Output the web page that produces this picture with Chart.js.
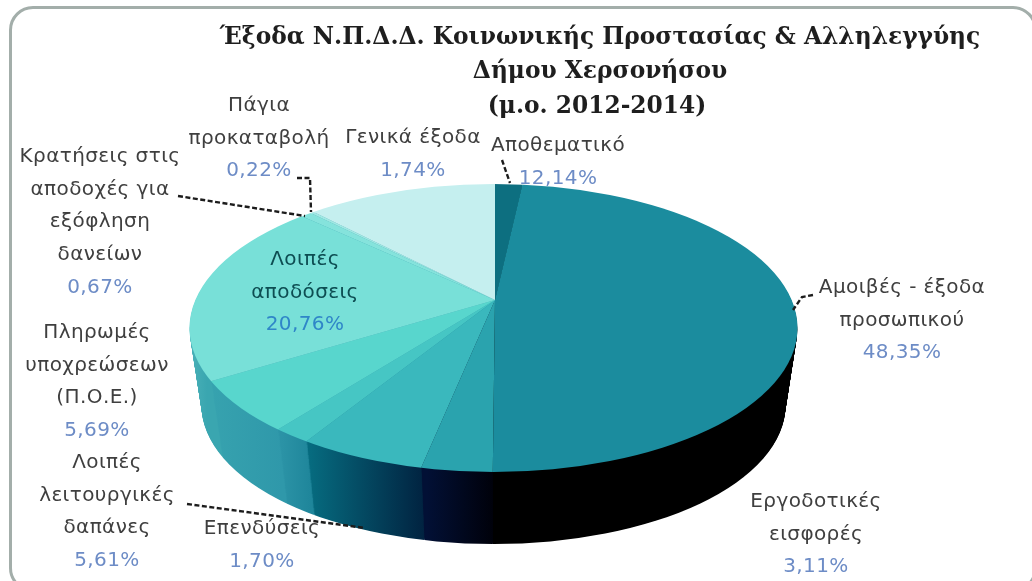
<!DOCTYPE html>
<html lang="el">
<head>
  <meta charset="UTF-8">
  <title>Έξοδα Ν.Π.Δ.Δ.</title>
  <script src="https://cdn.jsdelivr.net/npm/chart.js"></script>
  <style>
    html, body { margin: 0; padding: 0; background: #fff; overflow: hidden; }
    #wrap { position: relative; width: 1032px; height: 581px; overflow: hidden; filter: blur(0.6px); }
    #frame {
      position: absolute; left: 9px; top: 6px; width: 1022px; height: 580px;
      border: 3px solid #a3aeaa; border-radius: 24px;
    }
    canvas { position: absolute; left: 0; top: 0; }
  </style>
</head>
<body>
  <div id="wrap">
    <div id="frame"></div>
    <canvas id="pie" width="1032" height="581"></canvas>
  </div>

  <script>
    const categories = [
      'Γενικά έξοδα', 'Αμοιβές - έξοδα προσωπικού', 'Εργοδοτικές εισφορές',
      'Λοιπές λειτουργικές δαπάνες', 'Επενδύσεις', 'Πληρωμές υποχρεώσεων (Π.Ο.Ε.)',
      'Λοιπές αποδόσεις', 'Κρατήσεις στις αποδοχές για εξόφληση δανείων',
      'Πάγια προκαταβολή', 'Αποθεματικό'
    ];
    const sliceValues = [1.74, 48.35, 3.11, 5.61, 1.70, 5.69, 20.76, 0.67, 0.22, 12.14];
    const labelLines = [
      ['Γενικά έξοδα'], ['Αμοιβές - έξοδα', 'προσωπικού'], ['Εργοδοτικές', 'εισφορές'],
      ['Λοιπές', 'λειτουργικές', 'δαπάνες'], ['Επενδύσεις'], ['Πληρωμές', 'υποχρεώσεων', '(Π.Ο.Ε.)'],
      ['Λοιπές', 'αποδόσεις'], ['Κρατήσεις στις', 'αποδοχές για', 'εξόφληση', 'δανείων'],
      ['Πάγια', 'προκαταβολή'], ['Αποθεματικό']
    ];
    const titleLines = [
      'Έξοδα Ν.Π.Δ.Δ. Κοινωνικής Προστασίας & Αλληλεγγύης',
      'Δήμου Χερσονήσου',
      '(μ.ο. 2012-2014)'
    ];

    // styling
    const topColors = ['#0d6f80', '#1b8c9e', '#2aa3ae', '#3ab8bd', '#46c6c4', '#58d6cd', '#78e0d8', '#85e3dc', '#a0e8e3', '#c5efef'];
    const wallStops = [
      [495, '#0a5a68', 530, '#0a5a68'],
      [497, '#000000', 800, '#000000'],
      [427, '#021035', 497, '#000008'],
      [310, '#066b7f', 427, '#01213f'],
      [282, '#2b93a6', 310, '#1f869b'],
      [207, '#37a3af', 282, '#2f98aa'],
      [190, '#4ab1b8', 207, '#3aa6b0'],
      [190, '#4ab1b8', 207, '#3aa6b0'],
      [190, '#4ab1b8', 207, '#3aa6b0'],
      [190, '#4ab1b8', 207, '#3aa6b0']
    ];
    const labelAnchor = [
      [413, 138], [902, 288], [816, 502], [107, 463], [262, 529],
      [97, 333], [305, 260], [100, 157], [259, 106], [558, 146]
    ];
    const leaderLines = [
      [[297, 178], [310, 178], [311, 212]],
      [[178, 196], [305, 216]],
      [[502, 160], [510, 183]],
      [[813, 295], [802, 297], [793, 310]],
      [[187, 504], [365, 528]]
    ];

    // projected pie: apex is where the slices meet, rim is the visible ellipse
    const apex = { x: 495, y: 300 };
    const rim = { rx: 304, ry: 144, dx: -1.5, dy: 28 };
    const rayX = 299, rayY = 138.6, overscan = 1.6;
    const depth = 79, shrink = 0.04;
    const lineStep = 32.6;

    function placePie(ctx, chart, dy, s) {
      const el = chart.getDatasetMeta(0).data[0];
      const r = el.outerRadius;
      ctx.translate(apex.x, apex.y + dy);
      ctx.scale(s * rayX * overscan / r, s * rayY * overscan / r);
      ctx.translate(-el.x, -el.y);
    }

    function clipRim(ctx, dy, s) {
      ctx.beginPath();
      ctx.ellipse(apex.x + rim.dx, apex.y + dy + rim.dy * s, rim.rx * s, rim.ry * s, 0, 0, Math.PI * 2);
      ctx.clip();
    }

    const projectedPie = {
      id: 'projectedPie',
      beforeDatasetsDraw(chart) {
        const ctx = chart.ctx;
        const arcs = chart.getDatasetMeta(0).data;
        // side wall, stacked from the bottom rim upwards
        for (let dy = depth; dy >= 1; dy--) {
          const s = 1 - shrink * dy / depth;
          ctx.save();
          clipRim(ctx, dy, s);
          arcs.forEach((arc, i) => {
            const st = wallStops[i];
            const g = ctx.createLinearGradient(st[0], 0, st[2], 0);
            g.addColorStop(0, st[1]);
            g.addColorStop(1, st[3]);
            ctx.save();
            placePie(ctx, chart, dy, s);
            ctx.beginPath();
            ctx.moveTo(arc.x, arc.y);
            ctx.arc(arc.x, arc.y, arc.outerRadius, arc.startAngle, arc.endAngle);
            ctx.closePath();
            ctx.restore();
            ctx.fillStyle = g;
            ctx.fill();
          });
          ctx.restore();
        }
        // top face: the library draws the arcs inside this transform
        ctx.save();
        clipRim(ctx, 0, 1);
        placePie(ctx, chart, 0, 1);
      },
      afterDatasetsDraw(chart) {
        const ctx = chart.ctx;
        ctx.restore();

        ctx.save();
        ctx.strokeStyle = '#1c1c1c';
        ctx.lineWidth = 2.4;
        ctx.setLineDash([5, 2.5]);
        leaderLines.forEach(pts => {
          ctx.beginPath();
          pts.forEach((p, i) => i ? ctx.lineTo(p[0], p[1]) : ctx.moveTo(p[0], p[1]));
          ctx.stroke();
        });
        ctx.restore();

        ctx.save();
        ctx.textAlign = 'center';
        ctx.textBaseline = 'middle';
        ctx.fillStyle = '#1e1e1e';
        ctx.font = 'bold 23.3px "DejaVu Serif"';
        ctx.fillText(titleLines[0], 600, 38);
        ctx.fillText(titleLines[1], 600, 72);
        ctx.fillText(titleLines[2], 597, 107);

        ctx.font = '20px "DejaVu Sans"';
        ctx.letterSpacing = '0.4px';
        categories.forEach((name, i) => {
          const [x, y] = labelAnchor[i];
          const inside = name === 'Λοιπές αποδόσεις';
          ctx.fillStyle = inside ? '#0d4d52' : '#3f3f3f';
          labelLines[i].forEach((line, k) => ctx.fillText(line, x, y + k * lineStep));
          ctx.fillStyle = inside ? '#2f86c8' : '#6d8cc6';
          const pct = sliceValues[i].toFixed(2).replace('.', ',') + '%';
          ctx.fillText(pct, x, y + labelLines[i].length * lineStep);
        });
        ctx.restore();
      }
    };

    new Chart(document.getElementById('pie'), {
      type: 'pie',
      data: {
        labels: categories,
        datasets: [{
          data: sliceValues,
          backgroundColor: topColors,
          borderWidth: 0,
          clip: false
        }]
      },
      options: {
        responsive: false,
        animation: false,
        events: [],
        plugins: { legend: { display: false }, tooltip: { enabled: false }, title: { display: false } }
      },
      plugins: [projectedPie]
    });
  </script>
</body>
</html>
